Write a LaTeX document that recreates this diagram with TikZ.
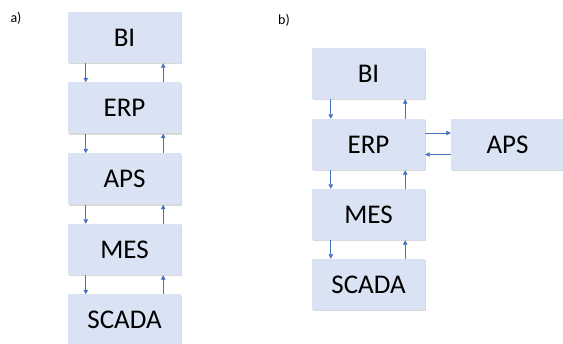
\documentclass[tikz,border=0pt]{standalone}
\usepackage{fontspec}
\setmainfont{Carlito}
\usetikzlibrary{arrows.meta, shadows}
\definecolor{boxfill}{HTML}{DAE3F3}
\definecolor{linkblue}{HTML}{4472C4}

\begin{document}
\begin{tikzpicture}[x=1pt, y=-1pt,
  layer/.style={rectangle, minimum width=113pt, minimum height=51pt, fill=boxfill, font=\fontsize{27}{30}\selectfont, drop shadow={shadow xshift=1pt, shadow yshift=-1.2pt, opacity=0.3}},
  link/.style={-{Triangle[length=4.5pt, width=4.5pt]}, color=linkblue, line width=0.8pt},
  tag/.style={font=\fontsize{14}{16}\selectfont}]
\useasboundingbox (0,0) rectangle (563,344);

% a) stacked
\node[tag] (taga) at (16,18) {a)};
\node[layer] (abi) at (124.5,37.5) {BI};
\node[layer] (aerp) at (124.5,108) {ERP};
\node[layer] (aaps) at (124.5,179) {APS};
\node[layer] (ames) at (124.5,249.5) {MES};
\node[layer] (ascada) at (124.5,320) {SCADA};

\draw[link] ([xshift=18pt]abi.south west) -- ([xshift=18pt]aerp.north west);
\draw[link] ([xshift=-18pt]aerp.north east) -- ([xshift=-18pt]abi.south east);
\draw[link] ([xshift=18pt]aerp.south west) -- ([xshift=18pt]aaps.north west);
\draw[link] ([xshift=-18pt]aaps.north east) -- ([xshift=-18pt]aerp.south east);
\draw[link] ([xshift=18pt]aaps.south west) -- ([xshift=18pt]ames.north west);
\draw[link] ([xshift=-18pt]ames.north east) -- ([xshift=-18pt]aaps.south east);
\draw[link] ([xshift=18pt]ames.south west) -- ([xshift=18pt]ascada.north west);
\draw[link] ([xshift=-18pt]ascada.north east) -- ([xshift=-18pt]ames.south east);

% b) APS beside ERP
\node[tag] (tagb) at (284,20) {b)};
\node[layer] (bbi) at (368.5,73.5) {BI};
\node[layer] (berp) at (368.5,144.5) {ERP};
\node[layer] (baps) at (507.5,144.5) {APS};
\node[layer] (bmes) at (368.5,214.5) {MES};
\node[layer] (bscada) at (368.5,284.5) {SCADA};

\draw[link] ([xshift=19pt]bbi.south west) -- ([xshift=19pt]berp.north west);
\draw[link] ([xshift=-20pt]berp.north east) -- ([xshift=-20pt]bbi.south east);
\draw[link] ([yshift=11.5pt]berp.east) -- ([yshift=11.5pt]baps.west);
\draw[link] ([yshift=-10pt]baps.west) -- ([yshift=-10pt]berp.east);
\draw[link] ([xshift=19pt]berp.south west) -- ([xshift=19pt]bmes.north west);
\draw[link] ([xshift=-20pt]bmes.north east) -- ([xshift=-20pt]berp.south east);
\draw[link] ([xshift=19pt]bmes.south west) -- ([xshift=19pt]bscada.north west);
\draw[link] ([xshift=-20pt]bscada.north east) -- ([xshift=-20pt]bmes.south east);
\end{tikzpicture}
\end{document}
